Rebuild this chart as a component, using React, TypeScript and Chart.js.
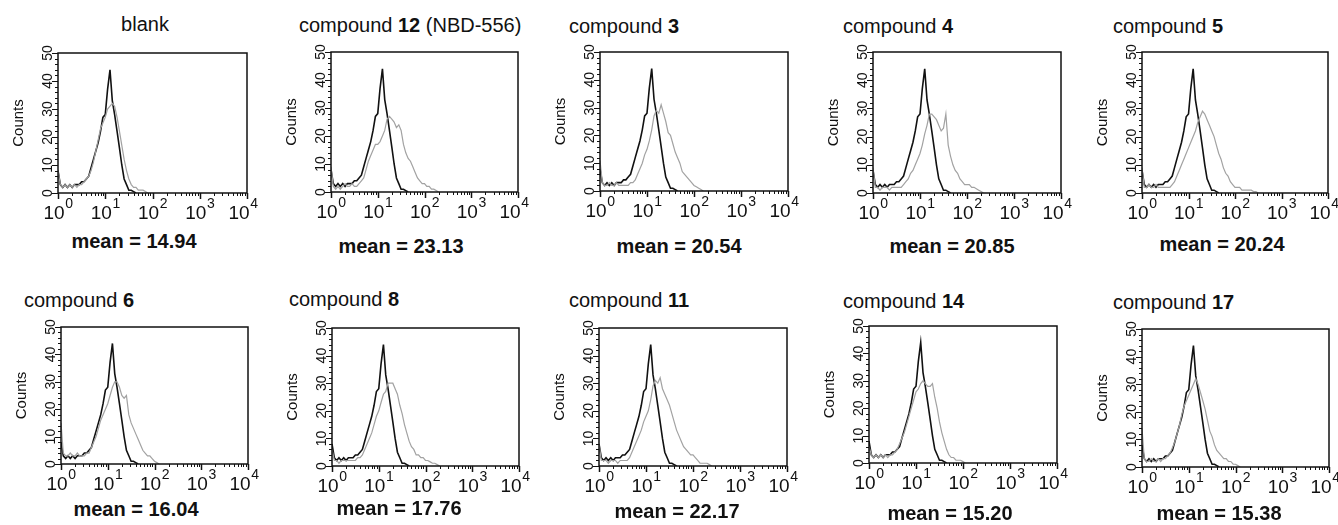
import React, { useEffect, useRef } from "react";
import { Chart, registerables } from "chart.js";

Chart.register(...registerables);

// Fluorescence channel positions (log scale, 1 .. 10^2.5)
const X_CHANNELS = [
  1, 1.12, 1.26, 1.41, 1.58, 1.78, 2, 2.24, 2.51, 2.82,
  3.16, 3.55, 3.98, 4.47, 5.01, 5.62, 6.31, 7.08, 7.94, 8.91,
  10, 11.2, 12.6, 14.1, 15.8, 17.8, 20, 22.4, 25.1, 28.2,
  31.6, 35.5, 39.8, 44.7, 50.1, 56.2, 63.1, 70.8, 79.4, 89.1,
  100, 112, 126, 141, 158, 178, 200, 224, 251, 282,
  316,
];

// black: untreated control histogram (same in every panel)
const CONTROL = [
  8, 3, 2, 3, 2, 3, 2, 3, 3, 3,
  4, 4, 5, 6, 9, 12, 15, 18, 22, 27,
  28, 37, 44, 33, 28, 22, 16, 10, 5, 3,
  1, 1, 0.5, 0,
];

// grey: treated histograms
const GRAY_BLANK = [
  8, 3, 2, 3, 2, 3, 2, 3, 2, 3,
  3, 4, 5, 6, 8, 11, 15, 19, 23, 25,
  27, 30, 31, 32, 31, 27, 22, 17, 12, 8,
  5, 3, 2, 2, 1, 1, 1, 0.5, 0,
];
const GRAY_C12 = [
  9, 2, 1, 2, 1, 2, 3, 2, 2, 3,
  2, 2, 3, 4, 5, 8, 11, 13, 15, 17,
  17, 18, 20, 22, 26, 27, 26, 25, 23, 24,
  22, 17, 14, 12, 11, 9, 7, 5, 4, 3,
  3, 2, 2, 1, 1, 0.5, 0,
];
const GRAY_C3 = [
  11, 3, 2, 2, 3, 2, 2, 3, 2, 2,
  2, 2, 2, 3, 3, 4, 6, 8, 10, 13,
  15, 18, 22, 27, 29, 28, 31, 28, 25, 21,
  20, 17, 14, 12, 10, 7, 6, 5, 4, 3,
  2, 1.5, 1, 0.5, 0,
];
const GRAY_C4 = [
  9, 2, 2, 1, 2, 2, 2, 1, 2, 2,
  2, 2, 2, 3, 4, 5, 7, 8, 10, 12,
  14, 17, 21, 24, 28, 28, 27, 26, 24, 22,
  23, 28, 17, 13, 10, 8, 7, 5, 4, 3,
  3, 3, 2, 2, 1.5, 1, 0.5, 0,
];
const GRAY_C5 = [
  9, 2, 2, 3, 2, 2, 3, 2, 2, 2,
  2, 2, 2, 3, 4, 6, 8, 10, 12, 14,
  16, 18, 20, 22, 25, 27, 29, 28, 26, 24,
  22, 20, 17, 14, 12, 9, 7, 6, 4, 3,
  2, 2, 2, 1, 1, 1, 1, 1, 0.5, 0.5,
  0,
];
const GRAY_C6 = [
  15, 4, 3, 3, 4, 3, 3, 4, 3, 3,
  3, 4, 4, 6, 8, 10, 13, 16, 18, 20,
  22, 25, 28, 30, 30, 28, 25, 24, 25, 18,
  15, 13, 11, 9, 7, 5, 4, 3, 3, 2,
  1, 0.5, 0,
];
const GRAY_C8 = [
  6, 2, 2, 1, 2, 2, 2, 2, 2, 2,
  2, 3, 3, 4, 6, 8, 10, 12, 15, 18,
  20, 23, 26, 27, 30, 30, 30, 28, 26, 22,
  19, 15, 12, 9, 7, 6, 4, 4, 3, 3,
  2, 2, 1.5, 1, 1, 0.5, 0,
];
const GRAY_C11 = [
  8, 2, 2, 2, 1, 2, 2, 2, 1, 2,
  2, 2, 2, 3, 5, 7, 9, 11, 13, 16,
  18, 20, 24, 29, 31, 30, 32, 28, 26, 24,
  22, 19, 16, 13, 11, 9, 7, 6, 5, 4,
  4, 3, 2, 1, 1, 1, 1, 0.5, 0,
];
const GRAY_C14 = [
  6, 3, 2, 3, 2, 3, 2, 3, 2, 3,
  3, 4, 5, 7, 9, 11, 14, 17, 20, 23,
  26, 27, 29, 30, 29, 28, 28, 29, 24, 20,
  15, 11, 8, 5, 3, 2, 2, 1, 1, 1,
  0.5, 0,
];
const GRAY_C17 = [
  14, 3, 2, 2, 3, 2, 2, 3, 2, 3,
  3, 4, 5, 7, 9, 12, 15, 19, 22, 24,
  26, 28, 30, 32, 30, 27, 24, 21, 17, 13,
  11, 8, 6, 5, 4, 3, 3, 2, 2, 1,
  1, 0.5, 0,
];

const GRAY_SERIES = [
  GRAY_BLANK, GRAY_C12, GRAY_C3, GRAY_C4, GRAY_C5,
  GRAY_C6, GRAY_C8, GRAY_C11, GRAY_C14, GRAY_C17,
];

// titles: [plain, bold, tail]
const TITLE_PLAIN = ["blank", "compound ", "compound ", "compound ", "compound ", "compound ", "compound ", "compound ", "compound ", "compound "];
const TITLE_BOLD = ["", "12", "3", "4", "5", "6", "8", "11", "14", "17"];
const TITLE_TAIL = ["", " (NBD-556)", "", "", "", "", "", "", "", ""];
const MEANS = ["14.94", "23.13", "20.54", "20.85", "20.24", "16.04", "17.76", "22.17", "15.20", "15.38"];

const Y_TICK_LABELS = [0, 10, 20, 30, 40, 50];
const X_TICK_VALUES = [1, 10, 100, 1000, 10000];
const X_TICK_EXPONENTS = ["0", "1", "2", "3", "4"];

// layout of each panel (plot box in page pixels, text positions)
const LAYOUT = [
  { l: 58, t: 53, r: 247, b: 193, tx: 145, tc: true, tb: 31, mx: 134, mb: 248 },
  { l: 331, t: 52, r: 518, b: 192, tx: 299, tc: false, tb: 32, mx: 401, mb: 253 },
  { l: 600, t: 52, r: 788, b: 191, tx: 569, tc: false, tb: 33, mx: 679, mb: 253 },
  { l: 873, t: 52, r: 1061, b: 193, tx: 843, tc: false, tb: 33, mx: 952, mb: 253 },
  { l: 1142, t: 52, r: 1328, b: 193, tx: 1113, tc: false, tb: 33, mx: 1222, mb: 251 },
  { l: 61, t: 327, r: 248, b: 464, tx: 24, tc: false, tb: 307, mx: 136, mb: 516 },
  { l: 332, t: 328, r: 519, b: 466, tx: 289, tc: false, tb: 306, mx: 399, mb: 515 },
  { l: 599, t: 328, r: 787, b: 466, tx: 569, tc: false, tb: 307, mx: 677, mb: 518 },
  { l: 869, t: 326, r: 1057, b: 463, tx: 843, tc: false, tb: 308, mx: 950, mb: 520 },
  { l: 1142, t: 329, r: 1329, b: 467, tx: 1113, tc: false, tb: 309, mx: 1219, mb: 520 },
];

const PAD = { left: 48, top: 10, right: 14, bottom: 34 };
const FONT = '"Liberation Sans", Arial, Helvetica, sans-serif';
const NARROW = '"Liberation Sans Narrow", "Liberation Sans", Arial, sans-serif';

const flowAxesPlugin = {
  id: "flowAxes",
  afterDraw(chart: any) {
    const { ctx, chartArea: a } = chart;
    const xs = chart.scales.x;
    const ys = chart.scales.y;
    ctx.save();
    ctx.strokeStyle = "#111";
    ctx.fillStyle = "#111";
    // frame
    ctx.lineWidth = 1.5;
    ctx.strokeRect(a.left, a.top, a.right - a.left, a.bottom - a.top);
    ctx.lineWidth = 1;
    // y ticks (every 2 counts, longer every 10)
    for (let v = 0; v <= 50; v += 2) {
      const py = Math.round(ys.getPixelForValue(v)) + 0.5;
      const len = v % 10 === 0 ? 6 : 3;
      ctx.beginPath();
      ctx.moveTo(a.left - len, py);
      ctx.lineTo(a.left, py);
      ctx.stroke();
    }
    // x ticks (log decades with minor ticks)
    for (let d = 0; d < X_TICK_VALUES.length; d++) {
      const dec = X_TICK_VALUES[d];
      const px0 = Math.round(xs.getPixelForValue(dec)) + 0.5;
      ctx.lineWidth = 1.5;
      ctx.beginPath();
      ctx.moveTo(px0, a.bottom);
      ctx.lineTo(px0, a.bottom + 6);
      ctx.stroke();
      ctx.lineWidth = 1;
      if (d < X_TICK_VALUES.length - 1) {
        for (let m = 2; m <= 9; m++) {
          const px = Math.round(xs.getPixelForValue(dec * m)) + 0.5;
          ctx.beginPath();
          ctx.moveTo(px, a.bottom);
          ctx.lineTo(px, a.bottom + 3);
          ctx.stroke();
        }
      }
    }
    // y labels (rotated)
    ctx.font = `14px ${NARROW}`;
    ctx.textAlign = "center";
    ctx.textBaseline = "alphabetic";
    for (const v of Y_TICK_LABELS) {
      const py = ys.getPixelForValue(v);
      ctx.save();
      ctx.translate(a.left - 6, py);
      ctx.rotate(-Math.PI / 2);
      ctx.fillText(String(v), 0, 0);
      ctx.restore();
    }
    // y title
    ctx.save();
    ctx.font = `15px ${FONT}`;
    ctx.textBaseline = "middle";
    ctx.translate(a.left - 39, (a.top + a.bottom) / 2);
    ctx.rotate(-Math.PI / 2);
    ctx.fillText("Counts", 0, 0);
    ctx.restore();
    // x labels 10^n
    ctx.textAlign = "left";
    for (let i = 0; i < X_TICK_VALUES.length; i++) {
      const px = xs.getPixelForValue(X_TICK_VALUES[i]);
      ctx.font = `19px ${NARROW}`;
      const w1 = ctx.measureText("10").width;
      ctx.font = `14px ${NARROW}`;
      const w2 = ctx.measureText(X_TICK_EXPONENTS[i]).width;
      let sx = px - (w1 + w2) / 2;
      if (i === X_TICK_VALUES.length - 1) sx -= 4;
      ctx.font = `19px ${NARROW}`;
      ctx.fillText("10", sx, a.bottom + 26);
      ctx.font = `14px ${NARROW}`;
      ctx.fillText(X_TICK_EXPONENTS[i], sx + w1 + 0.5, a.bottom + 15);
    }
    ctx.restore();
  },
};

function toPoints(values: number[]) {
  return values.map((v, i) => ({ x: X_CHANNELS[i], y: v }));
}

function Panel({ idx }: { idx: number }) {
  const ref = useRef<HTMLCanvasElement | null>(null);
  const L = LAYOUT[idx];
  const w = L.r - L.l + PAD.left + PAD.right;
  const h = L.b - L.t + PAD.top + PAD.bottom;

  useEffect(() => {
    if (!ref.current) return;
    const chart = new Chart(ref.current, {
      type: "line",
      data: {
        datasets: [
          {
            label: "treated",
            data: toPoints(GRAY_SERIES[idx]),
            borderColor: "#a2a2a2",
            borderWidth: 1.2,
            pointRadius: 0,
            tension: 0,
            fill: false,
          },
          {
            label: "control",
            data: toPoints(CONTROL),
            borderColor: "#111111",
            borderWidth: 1.6,
            pointRadius: 0,
            tension: 0,
            fill: false,
          },
        ],
      },
      options: {
        animation: false,
        responsive: false,
        devicePixelRatio: 1,
        events: [],
        layout: { padding: PAD },
        scales: {
          x: { type: "logarithmic", min: 1, max: 10000, display: false },
          y: { type: "linear", min: 0, max: 50, display: false },
        },
        plugins: {
          legend: { display: false },
          tooltip: { enabled: false },
          title: { display: false },
        },
      },
      plugins: [flowAxesPlugin],
    } as any);
    return () => chart.destroy();
  }, [idx]);

  const titleStyle: React.CSSProperties = {
    position: "absolute",
    top: L.tb - 17,
    left: L.tc ? L.tx - 100 : L.tx,
    width: L.tc ? 200 : undefined,
    textAlign: L.tc ? "center" : "left",
    font: `20px/20px ${FONT}`,
    color: "#111",
    whiteSpace: "nowrap",
  };
  const meanStyle: React.CSSProperties = {
    position: "absolute",
    top: L.mb - 17,
    left: L.mx - 100,
    width: 200,
    textAlign: "center",
    font: `bold 20px/20px ${FONT}`,
    color: "#111",
    whiteSpace: "nowrap",
  };

  return (
    <>
      <canvas
        ref={ref}
        width={w}
        height={h}
        style={{ position: "absolute", left: L.l - PAD.left, top: L.t - PAD.top, width: w, height: h }}
      />
      <div style={titleStyle}>
        {TITLE_PLAIN[idx]}
        {TITLE_BOLD[idx] ? <b>{TITLE_BOLD[idx]}</b> : null}
        {TITLE_TAIL[idx]}
      </div>
      <div style={meanStyle}>mean = {MEANS[idx]}</div>
    </>
  );
}

export default function App() {
  return (
    <div
      style={{
        position: "absolute",
        left: 0,
        top: 0,
        width: 1338,
        height: 525,
        background: "#fff",
        overflow: "hidden",
      }}
    >
      {LAYOUT.map((_, i) => (
        <Panel key={i} idx={i} />
      ))}
    </div>
  );
}
